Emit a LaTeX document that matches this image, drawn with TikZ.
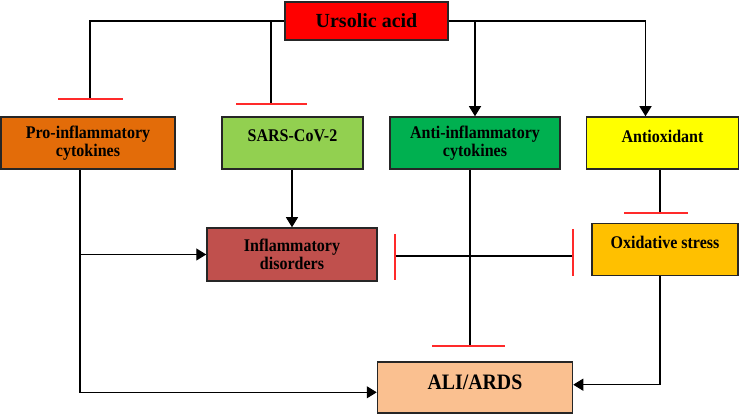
\documentclass[tikz,border=0pt]{standalone}
\usepackage{fontspec}
\setmainfont{Liberation Serif}
\newfontfamily\narrowfont[FakeStretch=0.9]{Liberation Serif}
\usetikzlibrary{positioning,arrows.meta}
\definecolor{uared}{HTML}{FF0000}
\definecolor{proorange}{HTML}{E36C09}
\definecolor{sarsgreen}{HTML}{92D050}
\definecolor{antigreen}{HTML}{00B050}
\definecolor{oxyellow}{HTML}{FFFF00}
\definecolor{inflred}{HTML}{C0504D}
\definecolor{stressorange}{HTML}{FFC000}
\definecolor{alipeach}{HTML}{FAC090}
\definecolor{barred}{HTML}{FF2A2A}

\begin{document}
\begin{tikzpicture}[x=1pt,y=-1pt,
boxnode/.style={rectangle, draw=black!85, line width=1.5pt, inner sep=0pt, align=center, font=\narrowfont\bfseries\fontsize{17.8}{18}\selectfont},
topline/.style={text depth=14pt},
lowtext/.style={execute at begin node={\rule{0pt}{19pt}}},
linkline/.style={black, line width=1.2pt},
arrowline/.style={linkline, -{Triangle[length=10pt,width=12pt]}},
redbar/.style={barred, line width=1.6pt},
]
\useasboundingbox (0,0) rectangle (740,414);

%Nodes
\node[boxnode, font=\bfseries\fontsize{20}{24}\selectfont, fill=uared, minimum width=163pt, minimum height=38pt] (ua) at (366.5,21) {Ursolic acid};
\node[boxnode, lowtext, fill=proorange, minimum width=174pt, minimum height=52pt] (pro) at (88,143) {Pro-inflammatory\\cytokines};
\node[boxnode, topline, fill=sarsgreen, minimum width=141pt, minimum height=52pt] (sars) at (292.5,143) {SARS-CoV-2};
\node[boxnode, lowtext, fill=antigreen, minimum width=170pt, minimum height=52pt] (anti) at (475,143) {Anti-inflammatory\\cytokines};
\node[boxnode, topline, fill=oxyellow, minimum width=152pt, minimum height=52pt] (antiox) at (662.5,143) {Antioxidant};
\node[boxnode, fill=inflred, minimum width=170pt, minimum height=53pt] (infl) at (292,254.5) {Inflammatory\\disorders};
\node[boxnode, topline, fill=stressorange, minimum width=146pt, minimum height=52pt] (ox) at (665,249.7) {Oxidative stress};
\node[boxnode, font=\narrowfont\bfseries\fontsize{22}{24}\selectfont, text depth=11pt, fill=alipeach, minimum width=195pt, minimum height=51pt] (ali) at (475,387.3) {ALI/ARDS};

%Free ends
\coordinate (proT) at (90,99);
\coordinate (sarsT) at (271,104);
\coordinate (antiT) at (470,346);
\coordinate (antioxT) at (660,213);
\coordinate (proB) at ([xshift=-8pt]pro.south);
\coordinate (inhL) at (395,256);
\coordinate (inhR) at (573,256);

%Lines
\draw[linkline] (ua.west) -| (proT);
\draw[linkline] (ua.west -| sarsT) -- (sarsT);
\draw[arrowline] (ua.east) -| ([xshift=-17pt]antiox.north);
\draw[arrowline] (ua.east -| anti.north) -- (anti.north);
\draw[arrowline] (proB) |- ([yshift=-5pt]ali.west);
\draw[arrowline] (infl.west -| proB) -- (infl.west);
\draw[arrowline] (sars.south -| infl.north) -- (infl.north);
\draw[linkline] (anti.south -| antiT) -- (antiT);
\draw[linkline] (antiox.south -| antioxT) -- (antioxT);
\draw[arrowline] (ox.south -| antioxT) |- ([yshift=2.6pt]ali.east);
\draw[linkline] (inhL) -- (inhR);

%Inhibition bars
\draw[redbar] ([xshift=-32pt]proT) -- ([xshift=33pt]proT);
\draw[redbar] ([xshift=-35pt]sarsT) -- ([xshift=36pt]sarsT);
\draw[redbar] ([xshift=-38pt]antiT) -- ([xshift=35pt]antiT);
\draw[redbar] ([xshift=-36pt]antioxT) -- ([xshift=28pt]antioxT);
\draw[redbar] ([yshift=22pt]inhL) -- ([yshift=-24pt]inhL);
\draw[redbar] ([yshift=27pt]inhR) -- ([yshift=-20pt]inhR);
\end{tikzpicture}
\end{document}
